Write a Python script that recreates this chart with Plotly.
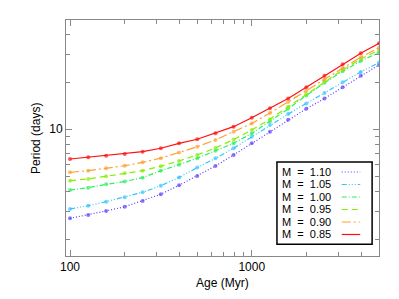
import plotly.graph_objects as go

ages = [100, 126, 158, 200, 251, 316, 398, 501, 631, 794, 1000, 1259, 1585, 1995, 2512, 3162, 3981, 5012]

p_110 = [2.71, 2.85, 3.02, 3.21, 3.50, 3.86, 4.40, 5.04, 5.84, 6.86, 8.14, 9.65, 11.5, 13.5, 15.7, 18.5, 21.9, 25.7]
p_105 = [3.11, 3.26, 3.46, 3.69, 3.97, 4.37, 4.94, 5.70, 6.53, 7.57, 8.97, 10.65, 12.5, 14.6, 17.0, 19.9, 23.2, 26.6]
p_100 = [4.10, 4.25, 4.46, 4.65, 4.92, 5.45, 5.95, 6.55, 7.30, 8.15, 9.40, 11.2, 13.5, 16.4, 19.8, 23.4, 27.2, 30.9]
p_095 = [4.71, 4.83, 5.02, 5.25, 5.45, 5.82, 6.28, 6.86, 7.60, 8.60, 9.90, 11.6, 13.9, 16.8, 20.2, 23.9, 28.0, 32.0]
p_090 = [5.32, 5.45, 5.65, 5.86, 6.16, 6.55, 7.12, 7.75, 8.55, 9.65, 10.9, 12.7, 14.9, 17.6, 20.8, 24.6, 28.8, 33.1]
p_085 = [6.47, 6.63, 6.79, 6.96, 7.20, 7.57, 8.14, 8.64, 9.43, 10.39, 11.85, 13.6, 15.7, 18.5, 21.9, 26.0, 30.5, 35.3]

labels = ["M  =  1.10", "M  =  1.05", "M  =  1.00", "M  =  0.95", "M  =  0.90", "M  =  0.85"]
series = [p_110, p_105, p_100, p_095, p_090, p_085]
colors = ["#5a3cff", "#33c4ff", "#2cf060", "#88ee00", "#ffa030", "#ff1010"]
dashes = ["1px,2px", "5px,2px,1px,2px,1px,2px,1px,2px", "5px,2px,1px,2px", "6px,4px", "9px,3px,2px,3px", "solid"]

x_major = [100, 1000]
x_major_text = ["100", "1000"]
x_minor = [200, 300, 400, 500, 600, 700, 800, 900, 2000, 3000, 4000, 5000]
y_major = [10]
y_major_text = ["10"]
y_minor = [2, 3, 4, 5, 6, 7, 8, 9, 20, 30, 40]

fig = go.Figure()
for vals, col, dsh in zip(series, colors, dashes):
    fig.add_trace(go.Scatter(
        x=ages, y=vals, mode="lines+markers",
        line=dict(color=col, width=1.2, dash=dsh),
        marker=dict(symbol="circle", size=4, color=col, opacity=0.7),
        showlegend=False, hoverinfo="skip"))

axis_col = "#888888"
fam = "Liberation Sans, Arial, sans-serif"
font = dict(family=fam, size=12, color="black")

fig.update_layout(
    width=391, height=291,
    margin=dict(l=58, r=20, t=12, b=43),
    paper_bgcolor="white", plot_bgcolor="white",
    font=font,
    xaxis=dict(type="log", range=[1.978, 3.70], showgrid=False, zeroline=False, automargin=False,
               showline=True, linecolor=axis_col, linewidth=1, mirror="allticks",
               ticks="inside", ticklen=6, tickcolor=axis_col,
               tickvals=x_major, ticktext=x_major_text,
               minor=dict(tickvals=x_minor, ticks="inside", ticklen=4, tickcolor=axis_col, showgrid=False)),
    yaxis=dict(type="log", range=[0.193, 1.696], showgrid=False, zeroline=False, automargin=False,
               showline=True, linecolor=axis_col, linewidth=1, mirror="allticks",
               ticks="inside", ticklen=6, tickcolor=axis_col,
               tickvals=y_major, ticktext=y_major_text,
               minor=dict(tickvals=y_minor, ticks="inside", ticklen=4, tickcolor=axis_col, showgrid=False)),
)

fig.add_annotation(xref="paper", yref="paper", x=0.5, y=-0.114, text="Age (Myr)", showarrow=False,
                   xanchor="center", yanchor="middle", font=font)
fig.add_annotation(xref="paper", yref="paper", x=-0.096, y=0.5, text="Period (days)", showarrow=False,
                   xanchor="center", yanchor="middle", textangle=-90, font=font)

# custom legend (text on left, line sample on right)
lx0, lx1 = 0.674, 0.978
ly0, ly1 = 0.050, 0.398
fig.add_shape(type="rect", xref="paper", yref="paper", x0=lx0, x1=lx1, y0=ly0, y1=ly1,
              line=dict(color="black", width=1.5), fillcolor="white", layer="above")
row_top = 0.356
row_step = 12.5 / 236
for i, (lab, col, dsh) in enumerate(zip(labels, colors, dashes)):
    yy = row_top - i * row_step
    fig.add_annotation(xref="paper", yref="paper", x=0.685, y=yy, text=lab, showarrow=False,
                       xanchor="left", yanchor="middle",
                       font=dict(family=fam, size=11, color="black"))
    fig.add_shape(type="line", xref="paper", yref="paper", x0=0.881, x1=0.940, y0=yy, y1=yy,
                  line=dict(color=col, width=1.2, dash=dsh), layer="above")

fig.write_html("out.html")
